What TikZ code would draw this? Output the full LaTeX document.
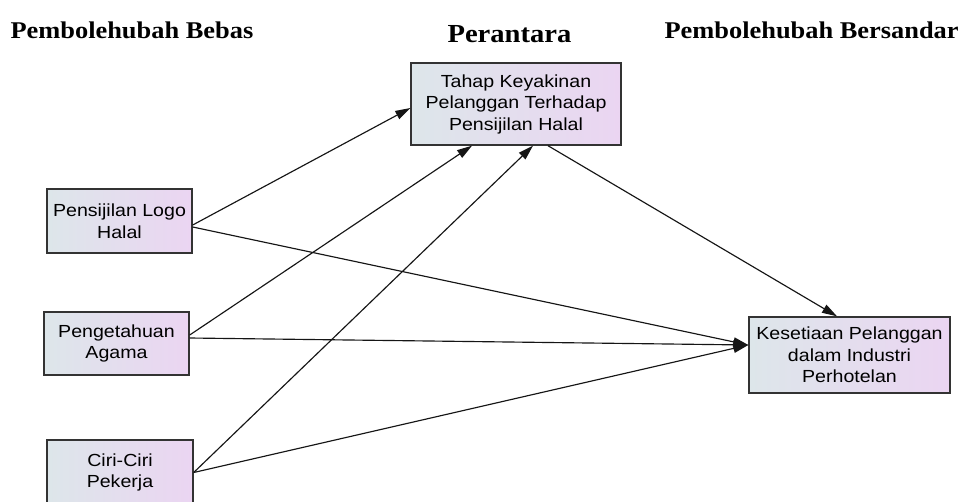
\documentclass[tikz,border=0pt]{standalone}
\usepackage{fontspec}
\setmainfont{Liberation Sans}[FakeStretch=1.12]
\newfontfamily\titlefont{Liberation Serif}[FakeStretch=1.1]
\usetikzlibrary{arrows.meta}
\definecolor{boxL}{HTML}{DDE6EA}
\definecolor{boxR}{HTML}{EBD5F2}
\definecolor{boxline}{HTML}{333333}
\definecolor{linecol}{HTML}{151515}
\begin{document}
\begin{tikzpicture}[x=1pt,y=-1pt,
  varbox/.style={draw=boxline, line width=1.4pt, left color=boxL, right color=boxR,
    align=center, inner sep=0pt, font=\fontsize{17.5}{21.5}\selectfont, text=black},
  title/.style={anchor=base west, font=\titlefont\bfseries\fontsize{24}{28}\selectfont},
  conn/.style={draw=linecol, line width=1.15pt, -{Triangle[length=15pt,width=9pt]}}
]
\clip (0,0) rectangle (963,501);
\fill[white] (0,0) rectangle (963,501);

\node[title] (tb) at (7,38) {Pembolehubah Bebas};
\node[title, font=\titlefont\bfseries\fontsize{26}{30}\selectfont] (tp) at (444,42) {Perantara};
\node[title] (ts) at (661,38) {Pembolehubah Bersandar};

\node[varbox, minimum width=145pt, minimum height=64pt] (n1) at (119.5,221) {Pensijilan Logo\\Halal};
\node[varbox, minimum width=145pt, minimum height=63pt] (n2) at (116.5,343.5) {Pengetahuan\\Agama};
\node[varbox, minimum width=146pt, minimum height=65pt] (n3) at (120,472.5) {Ciri-Ciri\\Pekerja};
\node[varbox, minimum width=210pt, minimum height=82pt] (med) at (516,104) {Tahap Keyakinan\\Pelanggan Terhadap\\Pensijilan Halal};
\node[varbox, minimum width=201pt, minimum height=76pt] (dep) at (849.5,355) {Kesetiaan Pelanggan\\dalam Industri\\Perhotelan};

\draw[conn] ([yshift=-4pt]n1.east) -- ([yshift=-4pt]med.west);
\draw[conn] ([yshift=-6pt]n1.east) -- ([yshift=10pt]dep.west);
\draw[conn] ([yshift=8.5pt]n2.east) -- ([xshift=-44pt]med.south);
\draw[conn] ([yshift=5.5pt]n2.east) -- ([yshift=10pt]dep.west);
\draw[conn] (n3.east) -- ([xshift=17pt]med.south);
\draw[conn] (n3.east) -- ([yshift=10pt]dep.west);
\draw[conn] ([xshift=32pt]med.south) -- ([xshift=-12.5pt]dep.north);
\end{tikzpicture}
\end{document}
